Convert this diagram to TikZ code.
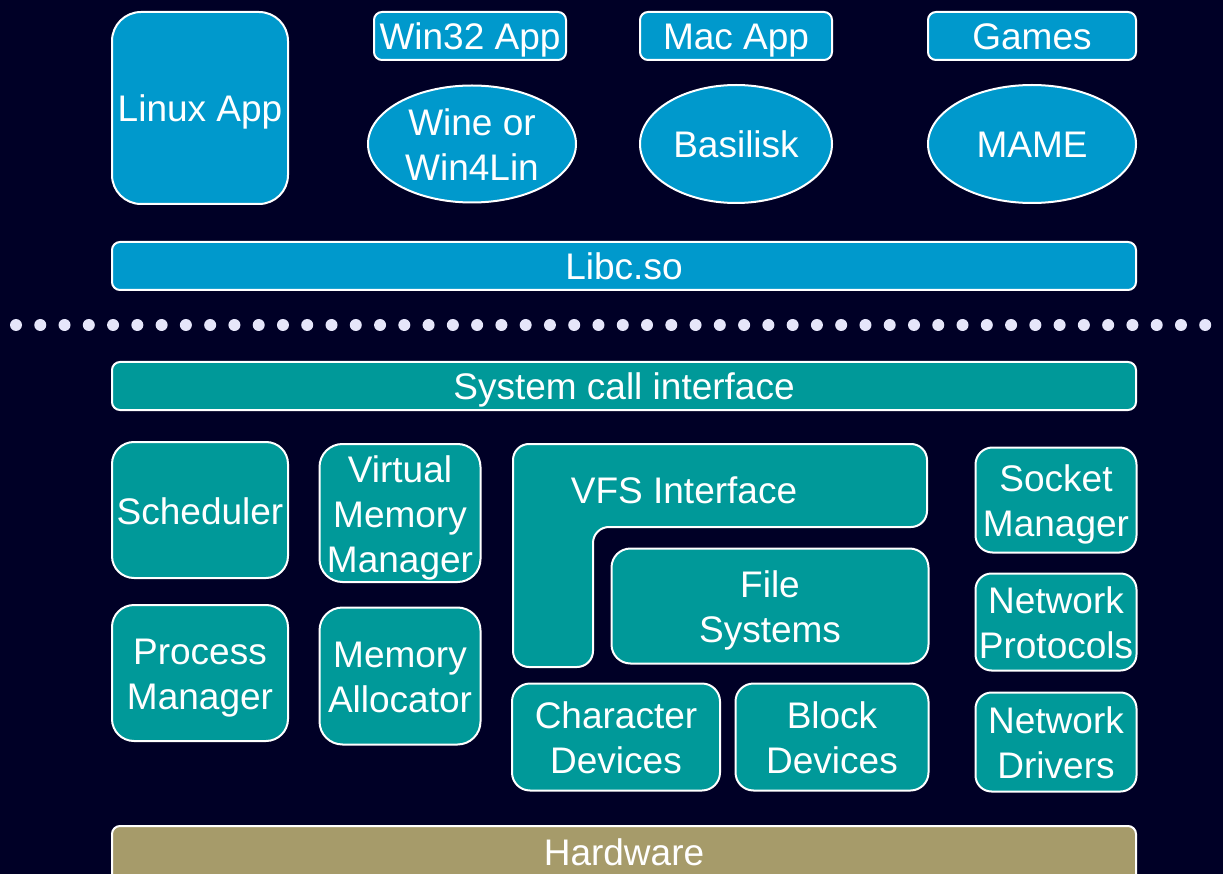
\documentclass[tikz,border=0pt]{standalone}
\usepackage{fontspec}
\setmainfont{Liberation Sans}
\usetikzlibrary{shapes.geometric}
\definecolor{bgnavy}{HTML}{000026}
\definecolor{appblue}{HTML}{0099CC}
\definecolor{kteal}{HTML}{009999}
\definecolor{hwgold}{HTML}{A69B6A}
\definecolor{dotlav}{HTML}{E6E6FA}
\newsavebox\mlbox
\newdimen\mlmid
\newcommand{\ml}[1]{%
  \sbox\mlbox{\begin{tabular}{@{}c@{}}#1\end{tabular}}%
  \mlmid=\dimexpr(\ht\mlbox-\dp\mlbox)/2\relax
  \ht\mlbox=\dimexpr2\mlmid+10pt\relax
  \dp\mlbox=0pt
  \usebox\mlbox}
\tikzset{
  boxbase/.style={draw=white, line width=2pt, text=white, inner sep=0pt,
    font=\fontsize{37}{45}\selectfont},
  bluebox/.style={boxbase, fill=appblue},
  tealbox/.style={boxbase, fill=kteal},
  hwbox/.style={boxbase, fill=hwgold},
  blueoval/.style={boxbase, fill=appblue, ellipse},
  sz/.style 2 args={minimum width=#1pt, minimum height=#2pt},
  txt/.style={text=white, inner sep=0pt, font=\fontsize{37}{45}\selectfont},
  dotstyle/.style={fill=dotlav, draw=none}
}
\begin{document}
\begin{tikzpicture}[x=1pt,y=-1pt]
\fill[bgnavy] (0,0) rectangle (1223,874);
\useasboundingbox (0,0) rectangle (1223,874);
\clip (0,0) rectangle (1223,874);

% user space
\node[bluebox, sz={176}{192}, rounded corners=29pt] (linux) at (200,108) {\ml{Linux App}};
\node[bluebox, sz={192}{48}, rounded corners=8pt] (win32) at (470,36) {\ml{Win32 App}};
\node[bluebox, sz={192}{48}, rounded corners=8pt] (mac) at (736,36) {\ml{Mac App}};
\node[bluebox, sz={208}{48}, rounded corners=8pt] (games) at (1032,36) {\ml{Games}};
\node[blueoval, sz={208}{117}] (wine) at (472,144) {\ml{Wine or\\Win4Lin}};
\node[blueoval, sz={192}{118}] (basilisk) at (736,144) {\ml{Basilisk}};
\node[blueoval, sz={208}{118}] (mame) at (1032,144) {\ml{MAME}};
\node[bluebox, sz={1024}{48}, rounded corners=8pt] (libc) at (624,266) {\ml{Libc.so}};

% separator
\foreach \i in {0,...,49} {
  \fill[dotstyle] ({16+24.27*\i},325) circle (6pt);
}

% kernel
\node[tealbox, sz={1024}{48}, rounded corners=8pt] (syscall) at (624,386) {\ml{System call interface}};
\node[tealbox, sz={176}{136}, rounded corners=22pt] (sched) at (200,510) {\ml{Scheduler}};
\node[tealbox, sz={176}{136}, rounded corners=22pt] (proc) at (200,673) {\ml{Process\\Manager}};
\node[tealbox, sz={161}{138}, rounded corners=23pt] (vmm) at (400,513) {\ml{Virtual\\Memory\\Manager}};
\node[tealbox, sz={161}{137}, rounded corners=23pt] (malloc) at (400,676) {\ml{Memory\\Allocator}};

% VFS L-shape
\draw[draw=white, line width=2pt, fill=kteal, rounded corners=16pt]
  (513,444) -- (927,444) -- (927,527) -- (593,527) -- (593,667) -- (513,667) -- cycle;
\node[txt] (vfs) at (684,489) {\ml{VFS Interface}};

\node[tealbox, sz={317}{115}, rounded corners=19pt] (fs) at (770,606) {\ml{File\\Systems}};
\node[tealbox, sz={208}{107}, rounded corners=18pt] (chr) at (616,737) {\ml{Character\\Devices}};
\node[tealbox, sz={193}{107}, rounded corners=18pt] (blk) at (832,737) {\ml{Block\\Devices}};
\node[tealbox, sz={161}{105}, rounded corners=17pt] (sock) at (1056,500) {\ml{Socket\\Manager}};
\node[tealbox, sz={161}{97}, rounded corners=16pt] (nproto) at (1056,622) {\ml{Network\\Protocols}};
\node[tealbox, sz={161}{99}, rounded corners=16pt] (ndrv) at (1056,742) {\ml{Network\\Drivers}};

% hardware
\node[hwbox, sz={1024}{60}, rounded corners=8pt] (hwshape) at (624,856) {};
\node[txt] (hw) at (624,851) {\ml{Hardware}};
\end{tikzpicture}
\end{document}
